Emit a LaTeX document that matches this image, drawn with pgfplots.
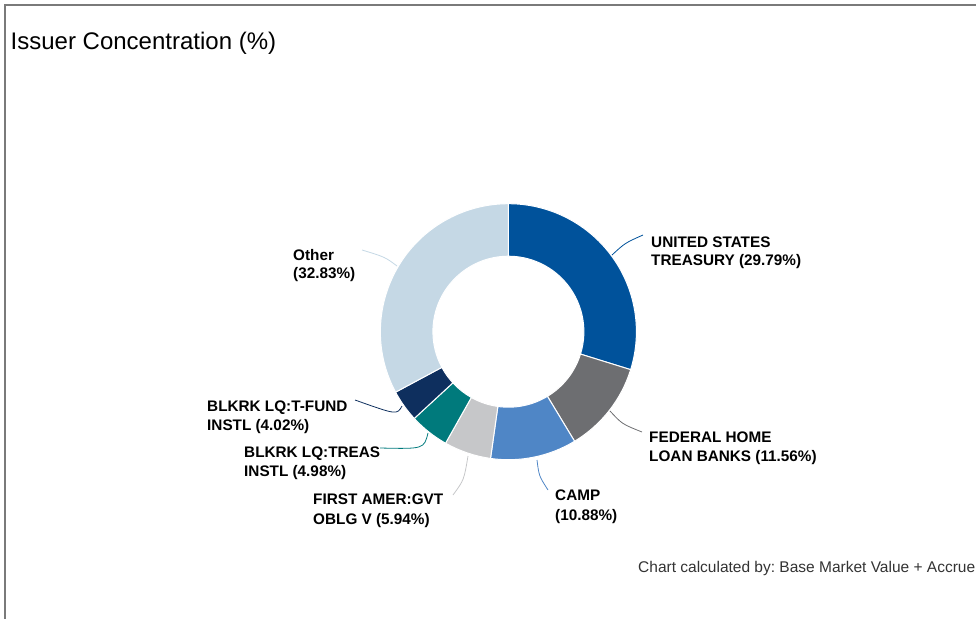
\documentclass[border=0pt]{standalone}
\usepackage{pgfplots}
\pgfplotsset{compat=1.18}
\usepackage{fontspec}
\setmainfont{Liberation Sans}
\frenchspacing

\definecolor{cTreas}{HTML}{00529B}
\definecolor{cFhlb}{HTML}{6D6E71}
\definecolor{cCamp}{HTML}{4F86C6}
\definecolor{cFirst}{HTML}{C6C7C9}
\definecolor{cBlkT}{HTML}{007A7C}
\definecolor{cBlkF}{HTML}{0E2F5E}
\definecolor{cOther}{HTML}{C5D8E5}
\definecolor{frame}{HTML}{7A7A7A}

% centre and radii of the ring, in pixels
\def\cx{508.4}\def\cy{331.7}
\def\Ro{128pt}\def\Ri{75.5pt}
% #1 = share before this slice (%), #2 = share (%), #3 = colour
\newcommand{\slice}[3]{%
  \fill[#3, draw=white, line width=1pt]
    ([shift={({90-3.6*(#1)}:\Ro)}]axis cs:\cx,\cy)
    arc[start angle={90-3.6*(#1)}, end angle={90-3.6*(#1+#2)}, radius=\Ro]
    -- ([shift={({90-3.6*(#1+#2)}:\Ri)}]axis cs:\cx,\cy)
    arc[start angle={90-3.6*(#1+#2)}, end angle={90-3.6*(#1)}, radius=\Ri]
    -- cycle;}
\newcommand{\lab}[3]{\node[anchor=base west, inner sep=0pt, font=\fontsize{15.3}{18}\bfseries] at (axis cs:#1,#2) {#3};}

\begin{document}
\begin{tikzpicture}
\useasboundingbox (0,0) rectangle (976pt,618pt);
\clip (0,0) rectangle (976pt,618pt);
\begin{axis}[
  at={(0,0)}, anchor=south west,
  width=976pt, height=618pt, scale only axis,
  xmin=0, xmax=976, ymin=0, ymax=618, y dir=reverse,
  hide axis, clip=false]

  % frame
  \draw[frame, line width=2pt] (axis cs:5,640) -- (axis cs:5,5) -- (axis cs:990,5);
  \node[anchor=base west, inner sep=0pt, font=\fontsize{24}{28}\selectfont]
    at (axis cs:10.5,49.5) {Issuer Concentration (\%)};

  % ring: shares in per cent, clockwise from the top
  \slice{0}{29.79}{cTreas}
  \slice{29.79}{11.56}{cFhlb}
  \slice{41.35}{10.88}{cCamp}
  \slice{52.23}{5.94}{cFirst}
  \slice{58.17}{4.98}{cBlkT}
  \slice{63.15}{4.02}{cBlkF}
  \slice{67.17}{32.83}{cOther}

  % leader lines
  \draw[cTreas, line width=0.8pt] (axis cs:612,255) .. controls (axis cs:625,243) .. (axis cs:643,235);
  \draw[cFhlb, line width=0.8pt] (axis cs:610,411) .. controls (axis cs:622,424) .. (axis cs:642,432);
  \draw[cCamp, line width=0.8pt] (axis cs:537,460) .. controls (axis cs:539,476) .. (axis cs:548,490);
  \draw[cFirst, line width=0.8pt] (axis cs:468,456) .. controls (axis cs:464,480) .. (axis cs:453,495);
  \draw[cBlkT, line width=0.8pt] (axis cs:428,433) .. controls (axis cs:424,449) .. (axis cs:380,448);
  \draw[cBlkF, line width=0.8pt] (axis cs:402,406) .. controls (axis cs:397,415) .. (axis cs:355,400);
  \draw[cOther, line width=0.8pt] (axis cs:397,266) .. controls (axis cs:385,257) .. (axis cs:362,250);

  % labels
  \lab{651}{247}{UNITED STATES}
  \lab{651}{265}{TREASURY (29.79\%)}
  \lab{649}{442}{FEDERAL HOME}
  \lab{649}{461}{LOAN BANKS (11.56\%)}
  \lab{555}{500}{CAMP}
  \lab{555}{520}{(10.88\%)}
  \lab{313}{504}{FIRST AMER:GVT}
  \lab{313}{524}{OBLG V (5.94\%)}
  \lab{244}{457}{BLKRK LQ:TREAS}
  \lab{244}{476}{INSTL (4.98\%)}
  \lab{207}{411}{BLKRK LQ:T-FUND}
  \lab{207}{430}{INSTL (4.02\%)}
  \lab{293}{260}{Other}
  \lab{293}{278}{(32.83\%)}

  \node[anchor=base west, inner sep=0pt, text=black!80, font=\fontsize{15.5}{18}\selectfont]
    at (axis cs:638,572) {Chart calculated by: Base Market Value + Accrue};
\end{axis}
\end{tikzpicture}
\end{document}
